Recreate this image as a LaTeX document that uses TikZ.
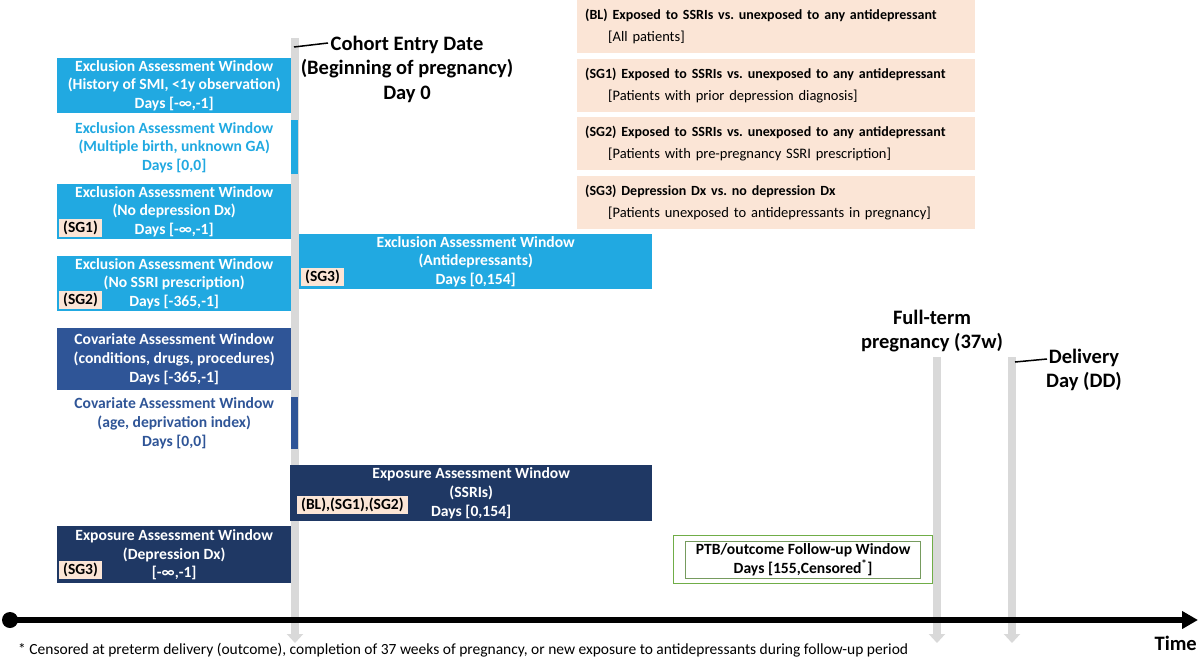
\documentclass[tikz,border=0pt]{standalone}
\usepackage{fontspec}
\setmainfont{Carlito}
\usetikzlibrary{arrows.meta,positioning}

\definecolor{exclblue}{RGB}{33,169,225}
\definecolor{covblue}{RGB}{47,85,151}
\definecolor{expnavy}{RGB}{31,56,100}
\definecolor{peach}{RGB}{251,229,214}
\definecolor{markgray}{RGB}{217,217,217}
\definecolor{fugreen}{RGB}{112,173,71}

\newcommand{\winfont}{\fontsize{15.6}{18.6}\selectfont\bfseries}
\newcommand{\tagfont}{\fontsize{15.5}{16}\selectfont\bfseries}
\newcommand{\bigfont}{\fontsize{20.5}{24.5}\selectfont\bfseries}
\newcommand{\grpfont}{\fontsize{14.5}{22}\selectfont}
\newcommand{\grpheadfont}{\fontsize{14}{22}\selectfont\bfseries}
\newcommand{\notefont}{\fontsize{15.5}{17}\selectfont}

\tikzset{
  window/.style={rectangle, anchor=north west, inner sep=0pt,
    align=center, font=\winfont, text=white, minimum width=234pt},
  strip/.style={rectangle, anchor=north west, inner sep=0pt,
    minimum width=7pt},
  tag/.style={rectangle, anchor=south west, fill=peach, text=black,
    font=\tagfont, inner xsep=4pt, inner ysep=0pt, minimum height=18pt},
  groupbox/.style={rectangle, anchor=north west, fill=peach, align=left,
    font=\grpfont, inner xsep=8pt, inner ysep=0pt, text width=382pt,
    minimum height=53pt},
  markbar/.style={draw=markgray, line width=8pt,
    -{Triangle[width=16pt,length=9pt]}},
  leader/.style={draw=black, line width=1.5pt},
  bigtext/.style={font=\bigfont, align=center, inner sep=0pt}
}

\begin{document}
\begin{tikzpicture}[x=1pt, y=-1pt]
  \useasboundingbox (0,0) rectangle (1200,659);

  % time markers
  \coordinate (entrytop) at (295,38);
  \coordinate (entryend) at (295,643);
  \coordinate (termtop) at (937,357);
  \coordinate (termend) at (937,643);
  \coordinate (deltop) at (1012,357);
  \coordinate (delend) at (1012,643);
  \draw[markbar] (entrytop) -- (entryend);
  \draw[markbar] (termtop) -- (termend);
  \draw[markbar] (deltop) -- (delend);

  \node[bigtext] (entrylbl) at (407,69)
    {Cohort Entry Date\\(Beginning of pregnancy)\\Day 0};
  \coordinate (entrytick) at (294,47);
  \coordinate (entrypt) at (328,43);
  \draw[leader] (entrytick) -- (entrypt);

  \node[bigtext] (termlbl) at (932,331) {Full-term\\pregnancy (37w)};
  \node[bigtext] (dellbl) at (1084,370) {Delivery\\Day (DD)};
  \coordinate (deltick) at (1015,362);
  \coordinate (delpt) at (1047,359);
  \draw[leader] (deltick) -- (delpt);

  % windows before day 0
  \node[window, fill=exclblue, minimum height=55pt] (exsmi) at (57,58)
    {Exclusion Assessment Window\\(History of SMI, <1y observation)\\Days [-∞,-1]};
  \node[window, text=exclblue, minimum height=48pt] (exmult) at (57,122)
    {Exclusion Assessment Window\\(Multiple birth, unknown GA)\\Days [0,0]};
  \node[strip, fill=exclblue, minimum height=54pt] (exmultday) at (291,120) {};
  \node[window, fill=exclblue, minimum height=55pt] (exdep) at (57,184)
    {Exclusion Assessment Window\\(No depression Dx)\\Days [-∞,-1]};
  \node[tag] (tagsgone) at ([shift={(2,-2)}]exdep.south west) {(SG1)};
  \node[window, fill=exclblue, minimum height=55pt] (exssri) at (57,256)
    {Exclusion Assessment Window\\(No SSRI prescription)\\Days [-365,-1]};
  \node[tag] (tagsgtwo) at ([shift={(2,-2)}]exssri.south west) {(SG2)};
  \node[window, fill=covblue, minimum height=62pt] (covcond) at (57,328)
    {Covariate Assessment Window\\(conditions, drugs, procedures)\\Days [-365,-1]};
  \node[window, text=covblue, minimum height=52pt] (covage) at (57,397)
    {Covariate Assessment Window\\(age, deprivation index)\\Days [0,0]};
  \node[strip, fill=covblue, minimum height=52pt] (covageday) at (291,397) {};
  \node[window, fill=expnavy, minimum height=57pt] (expdep) at (57,526)
    {Exposure Assessment Window\\(Depression Dx)\\{[-∞,-1]}};
  \node[tag] (tagsgthree) at ([shift={(2,-4)}]expdep.south west) {(SG3)};

  % windows after day 0
  \node[window, fill=exclblue, minimum width=353pt, minimum height=55pt] (exad)
    at (299,234) {Exclusion Assessment Window\\(Antidepressants)\\Days [0,154]};
  \node[tag] (tagad) at ([shift={(2,-3)}]exad.south west) {(SG3)};
  \node[window, fill=expnavy, minimum width=362pt, minimum height=56pt] (expssri)
    at (290,465) {Exposure Assessment Window\\(SSRIs)\\Days [0,154]};
  \node[tag] (tagssri) at ([shift={(7,-7)}]expssri.south west) {(BL),(SG1),(SG2)};

  \node[rectangle, draw=fugreen, line width=1.2pt, anchor=north west,
    minimum width=259pt, minimum height=48pt] (ptbouter) at (673,535) {};
  \node[rectangle, draw=fugreen!60!gray, line width=0.8pt, align=center,
    font=\winfont, text=black, inner sep=0pt, minimum width=235pt, minimum height=37pt]
    (ptb) at (ptbouter.center)
    {PTB/outcome Follow-up Window\\Days [155,Censored\textsuperscript{*}]};

  % analyses
  \foreach \nm/\yy/\head/\sub in {
      bl/0/{(BL) Exposed to SSRIs vs.\ unexposed to any antidepressant}/{All patients},
      sgone/59/{(SG1) Exposed to SSRIs vs.\ unexposed to any antidepressant}/{Patients with prior depression diagnosis},
      sgtwo/117/{(SG2) Exposed to SSRIs vs.\ unexposed to any antidepressant}/{Patients with pre-pregnancy SSRI prescription},
      sgthree/176/{(SG3) Depression Dx vs.\ no depression Dx}/{Patients unexposed to antidepressants in pregnancy}}
    \node[groupbox] (\nm) at (577,\yy) {{\grpheadfont\head}\\\hspace*{23pt}[\sub]};

  % time axis
  \node[circle, fill=black, inner sep=0pt, minimum size=16pt] (origin) at (10,620) {};
  \coordinate (axisend) at (1198,620);
  \draw[line width=6pt, -{Triangle[width=17pt,length=16pt]}] (origin.center) -- (axisend);
  \node[font=\bigfont, anchor=east, inner sep=0pt] (timelbl) at (1197,643) {Time};

  \node[font=\notefont, anchor=west, inner sep=0pt] (note) at (18,650)
    {* Censored at preterm delivery (outcome), completion of 37 weeks of pregnancy, or new exposure to antidepressants during follow-up period};
\end{tikzpicture}
\end{document}
